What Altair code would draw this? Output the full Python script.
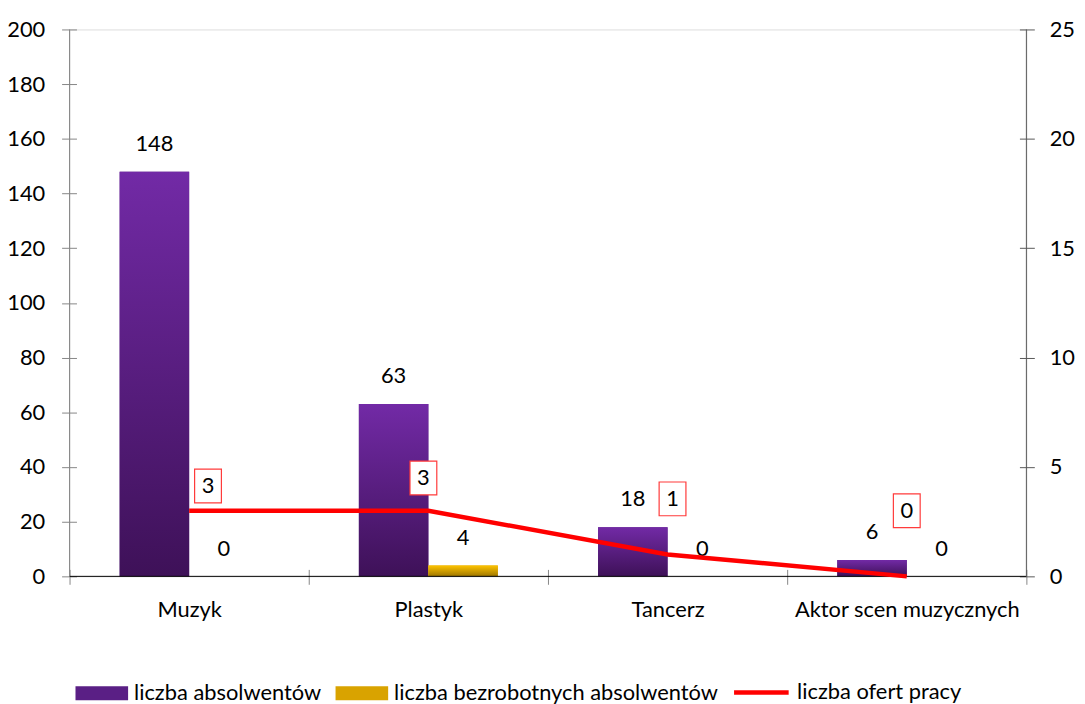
import altair as alt
import pandas as pd

# ---- data ----
categories = ["Muzyk", "Plastyk", "Tancerz", "Aktor scen muzycznych"]
absolwenci = [148, 63, 18, 6]
bezrobotni = [0, 4, 0, 0]
oferty = [3, 3, 1, 0]
series_bars = ["liczba absolwentów", "liczba bezrobotnych absolwentów"]
series_line = "liczba ofert pracy"
left_ticks = [0, 20, 40, 60, 80, 100, 120, 140, 160, 180, 200]
right_ticks = [0, 5, 10, 15, 20, 25]

# ---- tables ----
bars = pd.DataFrame(
    [{"category": c, "series": series_bars[0], "value": v} for c, v in zip(categories, absolwenci)]
    + [{"category": c, "series": series_bars[1], "value": v} for c, v in zip(categories, bezrobotni)]
)
line = pd.DataFrame({"category": categories, "oferty": oferty, "series": series_line})
zero = pd.DataFrame({"value": [0]})

# ---- styles ----
FONT = "Lato"
FS = 22
W, H = 964, 551
BAR_W = 70
purple_grad = alt.Gradient(gradient="linear", x1=0, y1=0, x2=0, y2=1,
                           stops=[alt.GradientStop(color="#722AA6", offset=0),
                                  alt.GradientStop(color="#3E1158", offset=1)])
yellow_grad = alt.Gradient(gradient="linear", x1=0, y1=0, x2=0, y2=1,
                           stops=[alt.GradientStop(color="#FFC400", offset=0),
                                  alt.GradientStop(color="#9E7600", offset=1)])
bar_styles = [(-BAR_W / 2, purple_grad), (BAR_W / 2, yellow_grad)]
# label box offsets relative to each line point (pixels)
LABEL_OFFSETS = [(19, -25), (-5, -33), (5, -56), (0, -66)]

X = alt.X("category:N", sort=categories,
          scale=alt.Scale(domain=categories, paddingInner=0, paddingOuter=0),
          axis=alt.Axis(orient="bottom", title=None, domain=False, tickBand="extent",
                        tickSize=15, offset=-7, tickColor="#868686", labelAngle=0,
                        labelPadding=15, labelFontSize=FS, labelFont=FONT,
                        labelColor="black", labelLimit=400, labelOverlap=False))
Y_left = alt.Y("value:Q", scale=alt.Scale(domain=[0, 200], nice=False, zero=True),
               axis=alt.Axis(orient="left", title=None, values=left_ticks, grid=False,
                             domain=False, tickSize=15, offset=-7, tickColor="#868686",
                             labelPadding=17, labelFontSize=FS, labelFont=FONT,
                             labelColor="black"))
Y_right = alt.Y("oferty:Q", scale=alt.Scale(domain=[0, 25], nice=False, zero=True),
                axis=alt.Axis(orient="right", title=None, values=right_ticks, grid=False,
                              domain=False, tickSize=15, offset=-7, tickColor="#595959",
                              labelPadding=15, labelFontSize=FS, labelFont=FONT,
                              labelColor="black"))

color_scale = alt.Scale(domain=series_bars, range=["#5A1F85", "#D9A300"])
bar_legend = alt.Legend(title=None, orient="none", legendX=6, legendY=642,
                        direction="horizontal", symbolType="M-1,-0.264H1V0.264H-1Z",
                        symbolSize=2809, symbolStrokeWidth=0, labelFont=FONT,
                        labelFontSize=FS, labelColor="black", labelOffset=6,
                        columnPadding=14, padding=0, labelLimit=500)

left_layers = []
for s, (off, grad) in zip(series_bars, bar_styles):
    base = alt.Chart(bars).transform_filter(alt.datum.series == s)
    left_layers.append(base.mark_bar(width=BAR_W, xOffset=off).encode(
        x=X, y=Y_left, color=alt.Color("series:N", scale=color_scale, legend=bar_legend)))
    left_layers.append(base.mark_bar(width=BAR_W, xOffset=off, fill=grad).encode(x=X, y=Y_left))
    left_layers.append(base.mark_text(xOffset=off, dy=-28, font=FONT, fontSize=FS,
                                      color="black", baseline="middle").encode(
        x=X, y=Y_left, text="value:Q"))

# axis lines
left_layers.append(alt.Chart(zero).mark_rule(color="black", strokeWidth=1).encode(y=Y_left))
left_layers.append(alt.Chart(zero).mark_rule(color="#868686", strokeWidth=1).encode(
    x=alt.value(0), y=alt.value(0), y2=alt.value(H)))
left_layers.append(alt.Chart(zero).mark_rule(color="#595959", strokeWidth=1).encode(
    x=alt.value(W), y=alt.value(0), y2=alt.value(H)))

left = alt.layer(*left_layers)

line_legend = alt.Legend(title=None, orient="none", legendX=667, legendY=638,
                         direction="horizontal", symbolType="stroke", symbolSize=3025,
                         symbolStrokeWidth=4.5, labelFont=FONT, labelFontSize=FS,
                         labelColor="black", labelOffset=6, padding=0, labelLimit=500)
right_layers = [alt.Chart(line).mark_line(strokeWidth=4.5).encode(
    x=X, y=Y_right,
    stroke=alt.Stroke("series:N", scale=alt.Scale(domain=[series_line], range=["#FF0000"]),
                      legend=line_legend))]
box_shape = "M-0.794,-1H0.794V1H-0.794Z"
for c, (dx, dy) in zip(categories, LABEL_OFFSETS):
    base = alt.Chart(line).transform_filter(alt.datum.category == c)
    right_layers.append(base.mark_point(shape=box_shape, size=1156, filled=False,
                                        stroke="#FF3B3B", strokeWidth=1.2, opacity=1,
                                        fill="white", fillOpacity=1,
                                        xOffset=dx, yOffset=dy).encode(x=X, y=Y_right))
    right_layers.append(base.mark_text(xOffset=dx, yOffset=dy, font=FONT, fontSize=FS,
                                       color="black", baseline="middle").encode(
        x=X, y=Y_right, text="oferty:Q"))
right = alt.layer(*right_layers)

chart = alt.layer(left, right).resolve_scale(y="independent").properties(
    width=W, height=H,
    autosize=alt.AutoSizeParams(type="none"),
    padding={"left": 62, "top": 19, "right": 51, "bottom": 126},
).configure_view(stroke=None).configure(font=FONT)

chart.save("out.html", embed_options={"renderer": "svg", "actions": False})
